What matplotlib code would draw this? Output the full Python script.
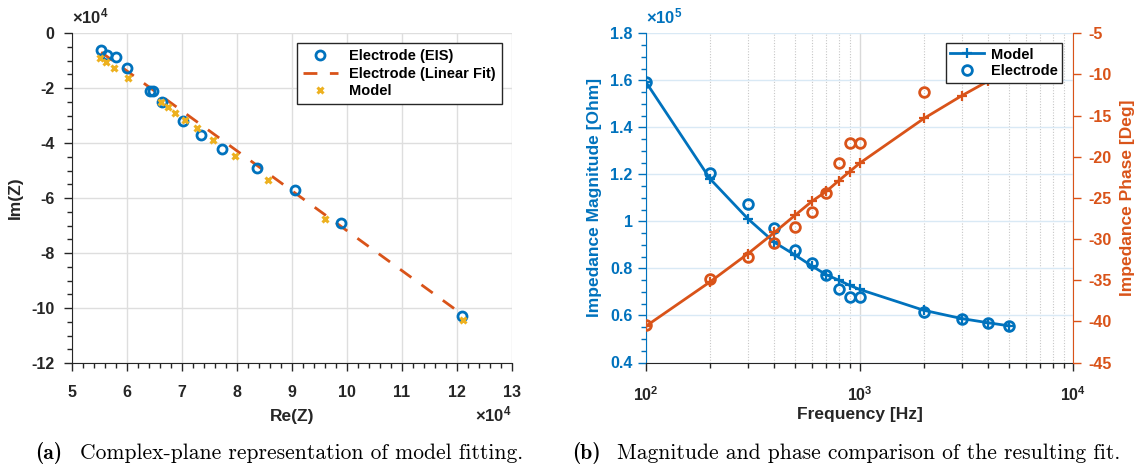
import matplotlib
matplotlib.use("Agg")
import matplotlib.pyplot as plt
import numpy as np
from matplotlib.ticker import MultipleLocator, LogLocator, NullFormatter, FuncFormatter

plt.rcParams['font.family'] = ['Liberation Sans', 'DejaVu Sans']
plt.rcParams['font.weight'] = 'bold'
plt.rcParams['axes.unicode_minus'] = False
plt.rcParams['mathtext.fontset'] = 'custom'
plt.rcParams['mathtext.rm'] = 'Liberation Sans:bold'
plt.rcParams['mathtext.bf'] = 'Liberation Sans:bold'
plt.rcParams['mathtext.default'] = 'bf'

# ---------------- data (a): complex plane, units of 1e4 Ohm ----------------
eis_re = [5.53, 5.64, 5.80, 6.00, 6.41, 6.48, 6.64, 7.01, 7.35, 7.72, 8.36, 9.05, 9.89, 12.10]
eis_im = [-0.63, -0.81, -0.88, -1.27, -2.12, -2.10, -2.50, -3.19, -3.72, -4.22, -4.92, -5.71, -6.91, -10.30]
fit_re = [5.53, 12.10]
fit_im = [-0.70, -10.24]
model_re = [5.515, 5.62, 5.76, 6.02, 6.62, 6.74, 6.88, 7.06, 7.27, 7.57, 7.96, 8.57, 9.60, 12.11]
model_im = [-0.91, -1.07, -1.29, -1.64, -2.52, -2.69, -2.91, -3.15, -3.47, -3.88, -4.46, -5.33, -6.78, -10.45]

# ---------------- data (b): Bode plot ----------------
freq = [100, 200, 300, 400, 500, 600, 700, 800, 900, 1000, 2000, 3000, 4000, 5000]
model_mag = [1.594, 1.181, 1.012, 0.911, 0.857, 0.810, 0.773, 0.750, 0.728, 0.711, 0.622, 0.587, 0.569, 0.556]  # x1e5
elec_mag = [1.594, 1.207, 1.072, 0.970, 0.878, 0.824, 0.771, 0.711, 0.678, 0.678, 0.613, 0.587, 0.569, 0.556]   # x1e5
model_phase = [-40.6, -35.2, -31.8, -29.2, -27.1, -25.4, -24.2, -22.9, -21.8, -20.8, -15.35, -12.6, -10.8, -9.4]
elec_phase = [-40.4, -34.8, -32.2, -30.5, -28.5, -26.7, -24.4, -20.8, -18.3, -18.3, -12.15, -8.6, -8.2, -7.9]

caption_a = ['(a)', 'Complex-plane representation of model fitting.']
caption_b = ['(b)', 'Magnitude and phase comparison of the resulting fit.']

BLUE = (0.0, 0.447, 0.741)
ORANGE = (0.850, 0.325, 0.098)
YELLOW = (0.929, 0.694, 0.125)
AXC = (0.15, 0.15, 0.15)
TICK_FS = 11.5
LAB_FS = 12.5
CAP_FS = 15.5

fig = plt.figure(figsize=(11.4, 4.66), dpi=100)

# ================= (a) =================
ax = fig.add_axes([72/1140, 1-363/466, 440/1140, 330/466])
ax.plot(fit_re, fit_im, '--', color=ORANGE, lw=2, dashes=(5, 4.5), zorder=3,
        label='Electrode (Linear Fit)')
ax.plot(eis_re, eis_im, 'o', mfc='none', mec=BLUE, mew=2, ms=6.5, ls='none', zorder=4,
        label='Electrode (EIS)')
ax.plot(model_re, model_im, 'x', color=YELLOW, mew=2.2, ms=4.5, ls='none', zorder=5,
        label='Model')
ax.set_xlim(5, 13)
ax.set_ylim(-12, 0)
ax.xaxis.set_major_locator(MultipleLocator(1))
ax.xaxis.set_minor_locator(MultipleLocator(0.2))
ax.yaxis.set_major_locator(MultipleLocator(2))
ax.yaxis.set_minor_locator(MultipleLocator(0.5))
ax.grid(True, which='major', color=(0.87, 0.87, 0.87), lw=1)
ax.set_axisbelow(True)
for s in ['top', 'right']:
    ax.spines[s].set_visible(False)
for s in ['left', 'bottom']:
    ax.spines[s].set_color(AXC)
ax.tick_params(which='both', direction='out', colors=AXC, labelsize=TICK_FS)
ax.tick_params(which='major', length=5.5, width=1)
ax.tick_params(which='minor', length=3.5, width=1)
ax.tick_params(axis='x', which='major', pad=10)
ax.tick_params(axis='y', which='major', pad=7)
for lab in ax.get_xticklabels() + ax.get_yticklabels():
    lab.set_fontweight('bold')
ax.set_xlabel('Re(Z)', fontsize=LAB_FS, fontweight='bold', color=AXC, labelpad=7)
ax.set_ylabel('Im(Z)', fontsize=LAB_FS, fontweight='bold', color=AXC, labelpad=6)
ax.text(0.0, 1.02, r'$\times$10$^{4}$', transform=ax.transAxes, fontsize=12,
        fontweight='bold', color=AXC, ha='left', va='bottom')
ax.text(1.0, -0.155, r'$\times$10$^{4}$', transform=ax.transAxes, fontsize=12,
        fontweight='bold', color=AXC, ha='right', va='center')
h, l = ax.get_legend_handles_labels()
order = [1, 0, 2]
leg = ax.legend([h[i] for i in order], [l[i] for i in order], loc='upper right',
                bbox_to_anchor=(0.977, 0.969), borderaxespad=0, fancybox=False,
                edgecolor=AXC, framealpha=1, prop={'weight': 'bold', 'size': 10.5},
                handlelength=2.4, borderpad=0.4, labelspacing=0.25, handletextpad=0.8)
leg.get_frame().set_linewidth(1)

# ================= (b) =================
bx = fig.add_axes([645.7/1140, 1-362.5/466, 427.6/1140, 329.2/466])
bx.set_xscale('log')
l1, = bx.plot(freq, model_mag, '-+', color=BLUE, lw=2, ms=7, mew=1.6, zorder=3)
l2, = bx.plot(freq, elec_mag, 'o', mfc='none', mec=BLUE, mew=2, ms=7, ls='none', zorder=3)
bx.set_xlim(100, 10000)
bx.set_ylim(0.4, 1.8)
bx.yaxis.set_major_locator(MultipleLocator(0.2))
bx.yaxis.set_minor_locator(MultipleLocator(0.05))
bx.xaxis.set_major_locator(LogLocator(base=10, numticks=5))
bx.xaxis.set_minor_locator(LogLocator(base=10, subs=np.arange(2, 10), numticks=20))
bx.xaxis.set_minor_formatter(NullFormatter())
bx.yaxis.set_major_formatter(FuncFormatter(lambda v, p: ('%g' % round(v, 2))))
bx.grid(True, axis='x', which='major', color=(0.85, 0.85, 0.85), lw=1)
bx.grid(True, axis='x', which='minor', color=(0.78, 0.78, 0.78), lw=0.8, ls=(0, (1, 1.5)))
bx.grid(True, axis='y', which='major', color=(0.85, 0.915, 0.96), lw=1)
bx.set_axisbelow(True)
bx.spines['top'].set_visible(False)
bx.spines['right'].set_visible(False)
bx.spines['left'].set_color(BLUE)
bx.spines['bottom'].set_color(AXC)
bx.tick_params(axis='y', which='both', direction='out', colors=BLUE, labelsize=TICK_FS)
bx.tick_params(axis='x', which='both', direction='out', colors=AXC, labelsize=TICK_FS)
bx.tick_params(which='major', length=5.5, width=1)
bx.tick_params(which='minor', length=3.5, width=1)
bx.tick_params(axis='x', which='major', pad=11)
bx.tick_params(axis='y', which='major', pad=4)
for lab in bx.get_yticklabels():
    lab.set_fontweight('bold')
bx.set_xlabel('Frequency [Hz]', fontsize=LAB_FS, fontweight='bold', color=AXC, labelpad=2)
bx.set_ylabel('Impedance Magnitude [Ohm]', fontsize=LAB_FS, fontweight='bold', color=BLUE, labelpad=6)
bx.text(0.0, 1.02, r'$\times$10$^{5}$', transform=bx.transAxes, fontsize=12,
        fontweight='bold', color=BLUE, ha='left', va='bottom')

bx2 = bx.twinx()
bx2.plot(freq, model_phase, '-+', color=ORANGE, lw=2, ms=7, mew=1.6, zorder=3)
bx2.plot(freq, elec_phase, 'o', mfc='none', mec=ORANGE, mew=2, ms=7, ls='none', zorder=3)
bx2.set_ylim(-45, -5)
bx2.yaxis.set_major_locator(MultipleLocator(5))
for s in ['top', 'left', 'bottom']:
    bx2.spines[s].set_visible(False)
bx2.spines['right'].set_color(ORANGE)
bx2.tick_params(axis='y', which='both', direction='out', colors=ORANGE, labelsize=TICK_FS,
                length=5.5, width=1, pad=5)
for lab in bx2.get_yticklabels():
    lab.set_fontweight('bold')
bx2.set_ylabel('Impedance Phase [Deg]', fontsize=LAB_FS, fontweight='bold', color=ORANGE, labelpad=6)
leg2 = bx2.legend([l1, l2], ['Model', 'Electrode'], loc='upper right',
                  bbox_to_anchor=(0.974, 0.970), borderaxespad=0, fancybox=False,
                  edgecolor=AXC, framealpha=1, prop={'weight': 'bold', 'size': 10.5},
                  handlelength=2.3, borderpad=0.3, labelspacing=0.2, handletextpad=0.5)
leg2.get_frame().set_linewidth(1)
leg2.set_zorder(10)

# ================= captions =================
cy = 1 - 453/466
fig.text(35/1140, cy, caption_a[0], fontsize=CAP_FS, family='cmb10', fontweight='normal',
         va='center', ha='left')
fig.text(80/1140, cy, caption_a[1], fontsize=CAP_FS, family='cmr10', fontweight='normal',
         va='center', ha='left')
fig.text(572/1140, cy, caption_b[0], fontsize=CAP_FS, family='cmb10', fontweight='normal',
         va='center', ha='left')
fig.text(617/1140, cy, caption_b[1], fontsize=CAP_FS, family='cmr10', fontweight='normal',
         va='center', ha='left')

fig.savefig('out.png', dpi=100)
